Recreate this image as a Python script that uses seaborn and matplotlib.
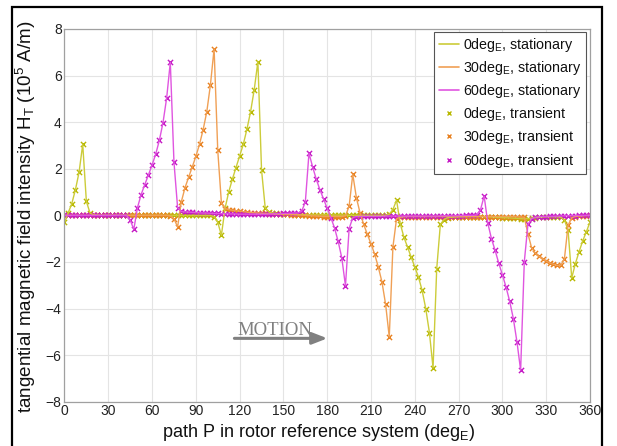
import numpy as np
import pandas as pd
import matplotlib
matplotlib.use('Agg')
import matplotlib.pyplot as plt
from matplotlib.patches import Rectangle
from matplotlib.lines import Line2D
import seaborn as sns

# path position along the rotor (deg_E), sampled every 2.5 deg
path_deg = np.arange(0, 360.1, 2.5)

# tangential field H_T (1e5 A/m), 10 samples per row (25 deg per row)
h_0deg = [
    -0.3, 0.1, 0.5, 1.1, 1.85, 3.05, 0.6, 0.1, 0.02, 0.01,          # 0
    0.0, 0.0, 0.0, 0.0, 0.0, 0.0, 0.0, 0.0, 0.0, 0.0,               # 25
    0.0, 0.0, 0.0, 0.0, 0.0, 0.0, 0.0, 0.0, 0.0, 0.0,               # 50
    0.0, 0.0, 0.0, 0.0, 0.0, 0.0, 0.0, 0.0, 0.0, 0.0,               # 75
    0.0, -0.05, -0.3, -0.85, 0.3, 1.0, 1.55, 2.05, 2.55, 3.05,      # 100
    3.7, 4.45, 5.4, 6.6, 1.95, 0.33, 0.15, 0.1, 0.08, 0.06,         # 125
    0.05, 0.05, 0.04, 0.04, 0.03, 0.03, 0.03, 0.02, 0.02, 0.02,     # 150
    0.02, 0.02, 0.02, 0.01, 0.01, 0.01, 0.01, 0.01, 0.0, 0.0,       # 175
    0.0, 0.0, 0.0, 0.0, 0.0, 0.0, 0.0, 0.0, 0.0, 0.05,              # 200
    0.25, 0.65, -0.35, -0.93, -1.36, -1.79, -2.22, -2.65, -3.22, -4.0,   # 225
    -5.03, -6.55, -2.3, -0.39, -0.18, -0.1, -0.08, -0.07, -0.06, -0.06,  # 250
    -0.05, -0.05, -0.05, -0.05, -0.05, -0.06, -0.06, -0.07, -0.08, -0.09,  # 275
    -0.1, -0.1, -0.11, -0.12, -0.13, -0.14, -0.15, -0.14, -0.12, -0.1,   # 300
    -0.08, -0.07, -0.06, -0.06, -0.06, -0.06, -0.08, -0.2, -0.64, -2.69,  # 325
    -2.07, -1.57, -1.1, -0.71, -0.29,                                  # 350
]

h_30deg = [
    0.0, 0.0, 0.0, 0.0, 0.0, 0.0, 0.0, 0.0, 0.0, 0.0,               # 0
    0.0, 0.0, 0.0, 0.0, 0.0, 0.0, 0.0, 0.0, 0.0, 0.0,               # 25
    0.0, 0.0, 0.0, 0.0, 0.0, 0.0, 0.0, 0.0, 0.0, -0.03,             # 50
    -0.14, -0.5, 0.57, 1.17, 1.63, 2.07, 2.53, 3.05, 3.68, 4.45,    # 75
    5.61, 7.15, 2.79, 0.54, 0.29, 0.25, 0.22, 0.2, 0.18, 0.16,      # 100
    0.14, 0.12, 0.11, 0.1, 0.09, 0.08, 0.07, 0.06, 0.05, 0.05,      # 125
    0.04, 0.04, 0.03, 0.03, 0.02, 0.01, 0.0, -0.01, -0.02, -0.03,   # 150
    -0.04, -0.05, -0.05, -0.05, -0.05, -0.05, -0.05, -0.02, 0.39, 1.76,  # 175
    0.75, 0.1, -0.39, -0.82, -1.22, -1.67, -2.22, -2.86, -3.82, -5.22,   # 200
    -1.36, -0.14, -0.08, -0.06, -0.05, -0.05, -0.05, -0.05, -0.05, -0.05,  # 225
    -0.05, -0.05, -0.05, -0.05, -0.05, -0.05, -0.05, -0.05, -0.05, -0.05,  # 250
    -0.05, -0.05, -0.05, -0.05, -0.05, -0.05, -0.05, -0.05, -0.05, -0.05,  # 275
    -0.05, -0.05, -0.05, -0.05, -0.06, -0.07, -0.08, -0.79, -1.39, -1.62,  # 300
    -1.76, -1.86, -1.96, -2.05, -2.1, -2.15, -2.15, -1.86, -0.43, -0.1,    # 325
    -0.05, -0.03, -0.02, -0.01, 0.0,                                   # 350
]

h_60deg = [
    0.0, 0.0, 0.0, 0.0, 0.0, 0.0, 0.0, 0.0, 0.0, 0.0,               # 0
    0.0, 0.0, 0.0, 0.0, 0.0, 0.0, 0.0, 0.0, -0.2, -0.6,             # 25
    0.33, 0.89, 1.32, 1.73, 2.16, 2.63, 3.22, 3.98, 5.04, 6.57,     # 50
    2.29, 0.33, 0.17, 0.15, 0.14, 0.13, 0.12, 0.11, 0.1, 0.1,       # 75
    0.09, 0.08, 0.08, 0.07, 0.07, 0.06, 0.06, 0.06, 0.05, 0.05,     # 100
    0.05, 0.05, 0.05, 0.05, 0.05, 0.05, 0.06, 0.06, 0.07, 0.07,     # 125
    0.08, 0.08, 0.09, 0.1, 0.1, 0.18, 0.57, 2.67, 2.08, 1.55,       # 150
    1.1, 0.7, 0.31, -0.1, -0.54, -1.12, -1.83, -3.03, -0.57, -0.1,  # 175
    -0.05, -0.05, -0.04, -0.04, -0.04, -0.04, -0.04, -0.04, -0.03, -0.03,  # 200
    -0.03, -0.03, -0.03, -0.03, -0.03, -0.03, -0.03, -0.03, -0.03, -0.03,  # 225
    -0.03, -0.03, -0.03, -0.02, -0.02, -0.02, -0.02, -0.02, -0.01, -0.01,  # 250
    0.0, 0.0, 0.0, 0.02, 0.24, 0.83, -0.33, -1.0, -1.5, -2.05,      # 275
    -2.55, -3.08, -3.69, -4.43, -5.44, -6.65, -2.0, -0.39, -0.14, -0.08,  # 300
    -0.06, -0.05, -0.05, -0.04, -0.04, -0.03, -0.03, -0.02, -0.02, -0.01,  # 325
    -0.01, 0.0, 0.0, 0.0, 0.0,                                         # 350
]

series_names = ["0deg", "30deg", "60deg"]
line_colors = ["#cccc3a", "#f0a055", "#e055e0"]
marker_colors = ["#b8b800", "#e8801e", "#c418c4"]

# long table for seaborn
df = pd.DataFrame({
    "path": np.tile(path_deg, 3),
    "H": np.concatenate([h_0deg, h_30deg, h_60deg]),
    "case": np.repeat(series_names, len(path_deg)),
})

sns.set_style("whitegrid")
plt.rcParams['font.family'] = ['Liberation Sans', 'DejaVu Sans']
plt.rcParams['mathtext.default'] = 'regular'

fig = plt.figure(figsize=(6.17, 4.46), dpi=100)
ax = fig.add_axes([0.1045, 0.0993, 0.8517, 0.8357])

# stationary results: lines
for name, col in zip(series_names, line_colors):
    sns.lineplot(data=df[df["case"] == name], x="path", y="H", color=col,
                 linewidth=1.0, ax=ax, legend=False)

# transient results: x markers
for name, col in zip(series_names, marker_colors):
    sns.scatterplot(data=df[df["case"] == name], x="path", y="H", color=col,
                    marker="x", s=14, linewidth=1.0, ax=ax, legend=False)

ax.set_xlim(0, 360)
ax.set_ylim(-8, 8)
ax.set_xticks(np.arange(0, 361, 30))
ax.set_yticks(np.arange(-8, 9, 2))
ax.grid(True, color="#e4e4e4", linewidth=0.8)
for sp in ax.spines.values():
    sp.set_color("#a0a0a0")
    sp.set_linewidth(0.9)
ax.tick_params(direction="in", length=3, color="#909090", labelsize=10,
               labelcolor="#222222", pad=2)

ax.set_xlabel(r"path P in rotor reference system (deg$_E$)", fontsize=13,
              color="#111111")
ax.xaxis.set_label_coords(0.484, -0.054, transform=ax.transAxes)
ax.xaxis.label.set_va("top")
ax.set_ylabel(r"tangential magnetic field intensity H$_T$ (10$^5$ A/m)",
              fontsize=13.6, color="#111111")
ax.yaxis.set_label_coords(-0.05, 0.497, transform=ax.transAxes)

# legend
handles = []
labels = []
for name, col in zip(series_names, line_colors):
    handles.append(Line2D([], [], color=col, linewidth=1.2))
    labels.append(name + r"$_E$, stationary")
for name, col in zip(series_names, marker_colors):
    handles.append(Line2D([], [], color=col, marker="x", linestyle="none",
                          markersize=3, markeredgewidth=1.0))
    labels.append(name + r"$_E$, transient")
leg = ax.legend(handles, labels, loc="upper right", bbox_to_anchor=(0.992, 0.993),
                borderaxespad=0, fontsize=10.3, handlelength=1.4, handletextpad=0.3,
                labelspacing=0.36, fancybox=False, framealpha=1, borderpad=0.3)
leg.get_frame().set_edgecolor("#555555")
leg.get_frame().set_linewidth(0.8)
for t in leg.get_texts():
    t.set_color("#111111")

# motion arrow
ax.annotate("", xy=(182, -5.28), xytext=(114.5, -5.28),
            arrowprops=dict(arrowstyle="-|>,head_length=0.9,head_width=0.35",
                            color="#808080", lw=2.2))
ax.text(144.5, -5.12, "MOTION", fontsize=13.5, color="#808080",
        family="Liberation Serif", ha="center", va="baseline")

# frame around the figure
fig.patches.append(Rectangle((0.0194, -0.1), 0.9563, 1.084, transform=fig.transFigure,
                             fill=False, edgecolor="black", linewidth=1.6))

fig.savefig("out.png", dpi=100)
